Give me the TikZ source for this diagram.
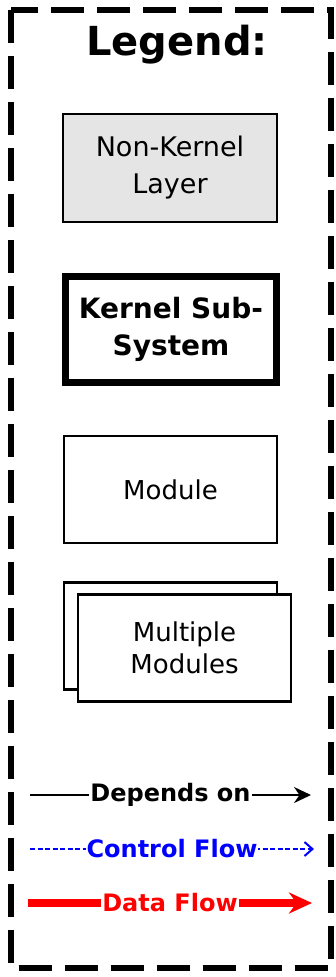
\documentclass[tikz,border=0pt]{standalone}
\usepackage{fontspec}
\setmainfont{DejaVu Sans}
\usetikzlibrary{arrows.meta}
\tikzset{
%Define standard arrow tip
>=Stealth,
%Define styles for the legend boxes
layer box/.style={draw, line width=2pt, fill=black!10, minimum width=214pt, minimum height=108pt, align=center, font=\fontsize{27}{37}\selectfont},
subsystem box/.style={draw, line width=7pt, minimum width=211pt, minimum height=106pt, align=center, font=\bfseries\fontsize{28}{37}\selectfont},
module box/.style={draw, line width=2.5pt, fill=white, minimum width=213pt, minimum height=107pt, align=center, font=\fontsize{26}{32}\selectfont},
%Define styles for the arrows
depends/.style={line width=2pt, -{Stealth[length=17pt,width=16pt]}},
control flow/.style={blue, line width=2pt, dash pattern=on 5pt off 2.5pt, -{Straight Barb[length=8pt,width=14pt]}},
data flow/.style={red, line width=8pt, -{Stealth[length=23pt,width=21pt]}},
flow label/.style={fill=white, inner sep=1pt, font=\bfseries\fontsize{24}{24}\selectfont},
frame/.style={line width=6pt, dash pattern=on 33pt off 13pt},
}

\begin{document}
\begin{tikzpicture}[x=1pt,y=-1pt]
    \useasboundingbox (0,0) rectangle (336,977);
    % Outer frame
    \draw[frame] (10.5,10) rectangle (331,968);
    \node[anchor=base, font=\bfseries\fontsize{40}{40}\selectfont] (legend) at (177,55) {Legend:};

    % Boxes
    \node[layer box] (nonkernel) at (170,168) {Non-Kernel\\Layer};
    \node[subsystem box] (kernel) at (171,329) {Kernel Sub-\\System};
    \node[module box] (module) at (170.5,489.5) {Module};
    \node[module box] (multiback) at (170.5,636) {};
    \node[module box] (multi) at (184.5,648) {Multiple\\Modules};

    % Let us define some coordinates for the arrows
    \path
    coordinate (dep start) at (30,795)
    coordinate (dep end) at (311,795)
    coordinate (ctl start) at (30,849)
    coordinate (ctl end) at (314,849)
    coordinate (data start) at (28,903)
    coordinate (data end) at (312,903);

    \draw[depends] (dep start) -- node[flow label] (dep) {Depends on} (dep end);
    \draw[control flow] (ctl start) -- node[flow label, text=blue] (ctl) {Control Flow} (ctl end);
    \draw[data flow] (data start) -- node[flow label, text=red] (data) {Data Flow} (data end);
\end{tikzpicture}
\end{document}
